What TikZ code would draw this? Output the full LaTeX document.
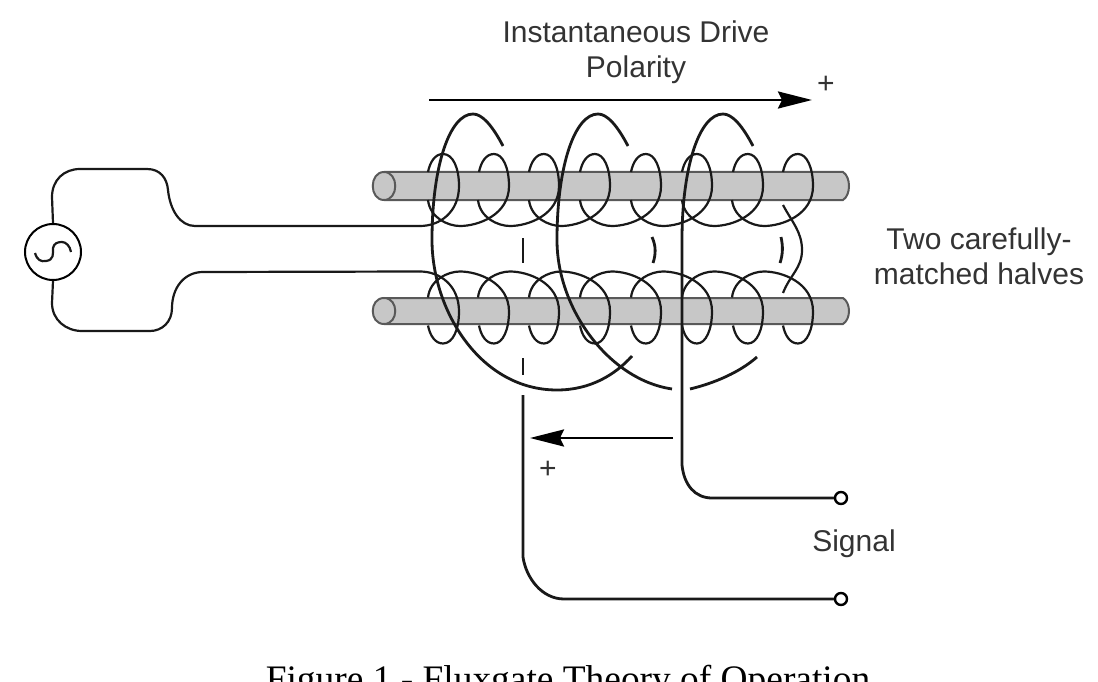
\documentclass[tikz,border=0pt]{standalone}
\usepackage{fontspec}
\setmainfont{Liberation Sans}
\newfontfamily\capfont{Liberation Serif}
\usetikzlibrary{arrows.meta}
\tikzset{
  wire/.style={line width=2.2pt,color=black!90},
  heavy/.style={line width=2.8pt,color=black!90},
  rod/.style={line width=2pt,draw=black!65,fill=black!22},
  bigarrow/.style={line width=2.6pt,-{Stealth[length=34pt,width=17pt,inset=4pt]}},
  terminal/.style={circle,draw,line width=2.4pt,fill=white,inner sep=0pt,minimum size=12pt},
  source/.style={circle,draw,line width=2pt,inner sep=0pt,minimum size=56pt},
  caption/.style={font=\fontsize{30}{35}\selectfont,align=center,text=black!80}
}
\begin{document}
\begin{tikzpicture}[x=1pt,y=-1pt]
    \useasboundingbox (0,0) rectangle (1098,682);
    % the two rods
    \foreach \up/\lo in {172/200,298/324} {
        \draw[rod] (384,\up) -- (843,\up) .. controls (851,\up+5) and (851,\lo-5) .. (843,\lo) -- (384,\lo)
            .. controls (369,\lo) and (369,\up) .. (384,\up) .. controls (399,\up) and (399,\lo) .. (384,\lo);
    }
    % drive windings, lower one is the upper one flipped
    \coordinate (leadA) at (420,226);
    \coordinate (leadB) at (420,271.5);
    \foreach \flip/\off in {1/0,-1/497.5} {
        \begin{scope}[shift={(0,\off)},yscale=\flip]
            \draw[wire] (420,226) .. controls (440,226) and (459,212) .. (459,186)
                .. controls (459,168) and (453,154) .. (443,154) .. controls (435,154) and (430,162) .. (428,172);
            \foreach \cx in {443,493,544,595,646,697,747} {
                \draw[wire] (\cx-15,200) .. controls (\cx-13,218) and (\cx+5,226) .. (\cx+17,226)
                    .. controls (\cx+35,226) and (\cx+66,215) .. (\cx+66,186)
                    .. controls (\cx+66,168) and (\cx+60,154) .. (\cx+51,154)
                    .. controls (\cx+43,154) and (\cx+38,162) .. (\cx+36,172);
            }
        \end{scope}
    }
    \draw[wire] (783,205) .. controls (792,222) and (802,232) .. (802,250) .. controls (802,268) and (790,275) .. (783,293);
    % generator
    \node[source] (src) at (53,252) {};
    \draw[wire] (35,253) .. controls (37,260) and (41,262) .. (46,261) .. controls (54,260) and (53,254) .. (53,248)
        .. controls (54,243) and (58,242) .. (62,242) .. controls (66,242) and (70,246) .. (71,252);
    \draw[wire] (src.north) -- (52,197) .. controls (52,180) and (64,169) .. (80,169) -- (147,169)
        .. controls (160,169) and (167,178) .. (168,190) .. controls (170,210) and (180,226) .. (195,226) -- (leadA);
    \draw[wire] (src.south) -- (52,303) .. controls (52,320) and (66,331) .. (82,331) -- (150,331)
        .. controls (162,331) and (172,322) .. (172,308) .. controls (172,288) and (184,272) .. (203,272) -- (leadB);
    % sense winding
    \node[terminal] (sigA) at (841,498) {};
    \node[terminal] (sigB) at (841,599) {};
    \draw[heavy] (503,146) .. controls (492,125) and (482,114) .. (473,114) .. controls (450,114) and (432,165) .. (432,240)
        .. controls (432,310) and (480,390) .. (557,390) .. controls (590,390) and (615,375) .. (632,356);
    \draw[heavy] (628,146) .. controls (617,125) and (607,114) .. (598,114) .. controls (575,114) and (557,165) .. (557,240)
        .. controls (557,310) and (610,380) .. (672,389);
    \draw[heavy] (690,389) .. controls (715,383) and (740,372) .. (757,357);
    \draw[heavy] (753,146) .. controls (742,125) and (732,114) .. (723,114) .. controls (700,114) and (682,165) .. (682,240)
        -- (682,465) .. controls (684,485) and (695,498) .. (712,498) -- (sigA.west);
    \draw[heavy] (523,395) -- (523,557) .. controls (526,578) and (542,599) .. (564,599) -- (sigB.west);
    % the hidden bits
    \draw[heavy] (523,238) -- (523,263);
    \draw[heavy] (523,358) -- (523,375);
    \draw[heavy] (652,237) .. controls (656,246) and (656,254) .. (653,263);
    \draw[heavy] (781,237) .. controls (783,246) and (783,254) .. (780,263);
    % polarity arrows
    \coordinate (driveL) at (429,100);
    \coordinate (driveR) at (812,100);
    \coordinate (senseR) at (673,438);
    \coordinate (senseL) at (530,438);
    \draw[bigarrow] (driveL) -- (driveR);
    \draw[bigarrow] (senseR) -- (senseL);
    % labels
    \node[caption,anchor=base] (title) at (636,78) {Instantaneous Drive\\Polarity};
    \node[caption] (plusA) at (826,85) {+};
    \node[caption] (plusB) at (548,470) {+};
    \node[caption,anchor=base] (halves) at (979,284) {Two carefully-\\matched halves};
    \node[caption,anchor=base] (signal) at (854,551) {Signal};
    \node[font=\capfont\fontsize{37.4}{40}\selectfont,anchor=base] (figcap) at (568,691) {Figure 1 - Fluxgate Theory of Operation};
\end{tikzpicture}
\end{document}
